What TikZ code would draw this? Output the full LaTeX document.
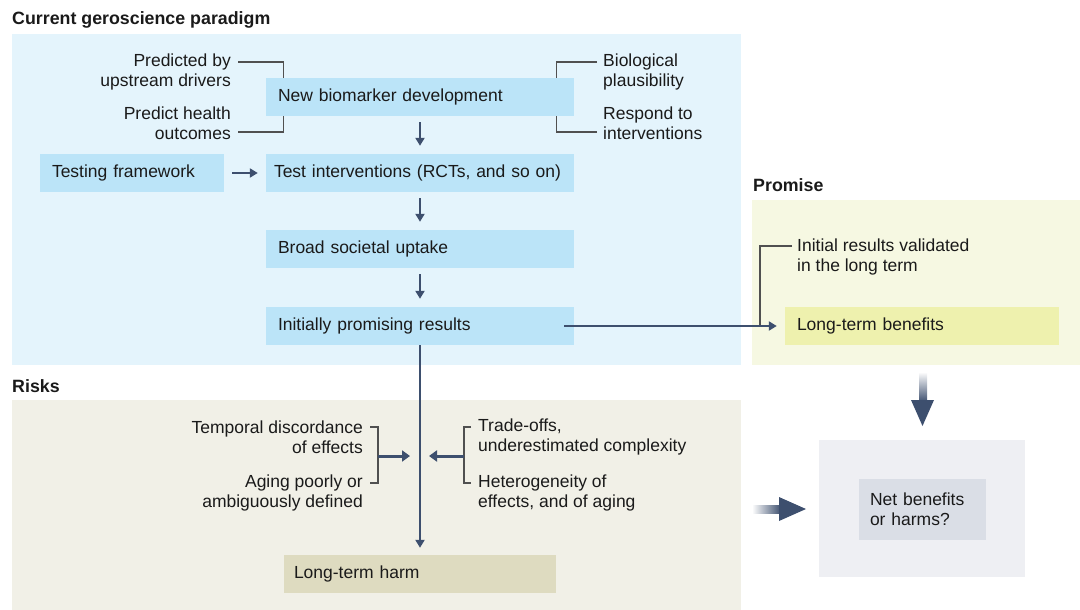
\documentclass[tikz,border=0pt]{standalone}
\usepackage{fontspec}
\setmainfont{Liberation Sans}
\usetikzlibrary{arrows.meta}
\definecolor{panelblue}{HTML}{E4F4FC}
\definecolor{boxblue}{HTML}{BBE4F8}
\definecolor{panelpromise}{HTML}{F6F8E2}
\definecolor{boxbenefit}{HTML}{EEF1AE}
\definecolor{panelrisk}{HTML}{F1F0E7}
\definecolor{boxharm}{HTML}{DEDBC0}
\definecolor{netouter}{HTML}{EEEFF3}
\definecolor{netinner}{HTML}{DADEE6}
\definecolor{navy}{HTML}{3D4F6E}
\definecolor{brkgray}{HTML}{505050}
\definecolor{ink}{HTML}{1A1A1A}
\tikzset{
  box/.style={fill=boxblue, minimum height=38pt, inner xsep=12pt, inner ysep=0pt, align=left, text=ink},
  lbl/.style={inner sep=0pt, text=ink},
  head/.style={lbl, anchor=west, font=\fontsize{17.8}{20}\selectfont\bfseries},
  arr/.style={draw=navy, line width=2pt, -{Triangle[length=8pt,width=9pt]}},
  arrbig/.style={draw=navy, line width=3pt, -{Triangle[length=8pt,width=11pt]}},
  brk/.style={draw=brkgray, line width=1.1pt},
}
\begin{document}
\begin{tikzpicture}[x=1pt,y=-1pt,font=\fontsize{17.5}{20}\selectfont]
\useasboundingbox (0,0) rectangle (1080,610);
% panels
\fill[panelblue] (12,34) rectangle (741,365);
\fill[panelpromise] (752,200) rectangle (1080,365);
\fill[panelrisk] (12,400) rectangle (741,610);
\fill[netouter] (819,440) rectangle (1025,577);
\node[head] (t1) at (12,20) {Current geroscience paradigm};
\node[head] (t2) at (753,185) {Promise};
\node[head] (t3) at (12,386) {Risks};
% boxes
\node[box, text width=284pt] (1) at (420,97) {New biomarker development};
\node[box, inner xsep=8pt, text width=292pt] (2) at (420,173) {Test interventions (RCTs, and so on)};
\node[box, text width=160pt] (3) at (132,173) {Testing framework};
\node[box, text width=284pt] (4) at (420,249) {Broad societal uptake};
\node[box, text width=284pt] (5) at (420,326) {Initially promising results};
\node[box, fill=boxbenefit, text width=250pt] (6) at (922,326) {Long-term benefits};
\node[box, fill=boxharm, inner xsep=10pt, text width=252pt] (7) at (420,574) {Long-term harm};
\node[box, fill=netinner, inner xsep=11pt, text width=105pt, minimum height=61pt] (8) at (922.5,509.5) {Net benefits\\or harms?};
% labels
\node[lbl, anchor=east, align=right] (a) at (231,72) {Predicted by\\upstream drivers};
\node[lbl, anchor=east, align=right] (b) at (231,123) {Predict health\\outcomes};
\node[lbl, anchor=west, align=left] (c) at (603,72) {Biological\\plausibility};
\node[lbl, anchor=west, align=left] (d) at (603,123) {Respond to\\interventions};
\node[lbl, anchor=west, align=left] (e) at (797,257) {Initial results validated\\in the long term};
\node[lbl, anchor=east, align=right] (f) at (363,437) {Temporal discordance\\of effects};
\node[lbl, anchor=east, align=right] (g) at (363,493) {Aging poorly or\\ambiguously defined};
\node[lbl, anchor=west, align=left] (h) at (478,437) {Trade-offs,\\underestimated complexity};
\node[lbl, anchor=west, align=left] (i) at (478,493) {Heterogeneity of\\effects, and of aging};
% bracket ends
\coordinate (a1) at (238,62);
\coordinate (b1) at (238,132);
\coordinate (c1) at (597,62);
\coordinate (d1) at (597,132);
\coordinate (e1) at (792,246);
\coordinate (e2) at (760,326);
\coordinate (f1) at (370,427);
\coordinate (g1) at (370,483);
\coordinate (f2) at (378,456);
\coordinate (h1) at (471,427);
\coordinate (i1) at (471,483);
\coordinate (h2) at (464,456);
% brackets
\path[brk] (a1) -| ([xshift=18pt]1.north west);
\path[brk] (b1) -| ([xshift=18pt]1.south west);
\path[brk] (c1) -| ([xshift=-18pt]1.north east);
\path[brk] (d1) -| ([xshift=-18pt]1.south east);
\path[brk] (e1) -| (e2);
\path[brk] (f1) -| (g1 -| f2) -- (g1);
\path[brk] (h1) -| (i1 -| h2) -- (i1);
% arrows
\path[arr, shorten <=6pt, shorten >=8pt] (1.south) -- (2.north);
\path[arr, shorten <=6pt, shorten >=8pt] (2.south) -- (4.north);
\path[arr, shorten <=6pt, shorten >=8pt] (4.south) -- (5.north);
\path[arr, shorten <=8pt, shorten >=8pt] (3.east) -- (2.west);
\path[arr, shorten >=7pt] (5.south) -- (7.north);
\path[arr, shorten >=8pt] ([xshift=-10pt]5.east) -- (6.west);
\path[arrbig, shorten >=10pt] (f2) -- (f2 -| 5.south);
\path[arrbig, shorten >=9pt] (h2) -- (h2 -| 5.south);
% big arrows
\shade[top color=white, bottom color=navy] (919,372) rectangle (927,402);
\fill[navy] (911,400) -- (934,400) -- (922.5,426) -- cycle;
\shade[left color=white, right color=navy] (752,505) rectangle (781,513);
\fill[navy] (779,497) -- (806,509) -- (779,521) -- cycle;
\end{tikzpicture}
\end{document}
